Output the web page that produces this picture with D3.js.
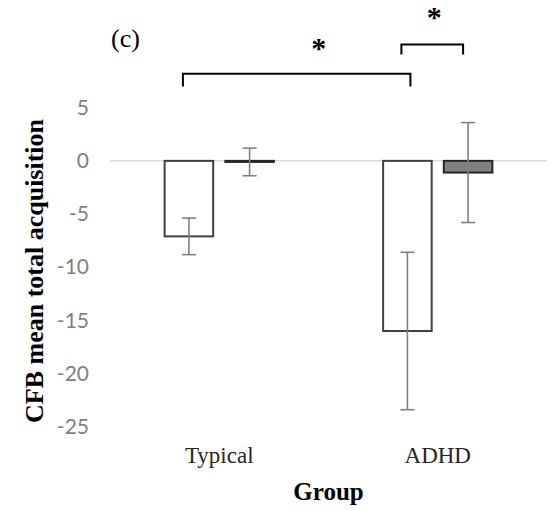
<!DOCTYPE html>
<html>
<head>
<meta charset="utf-8">
<script src="https://cdn.jsdelivr.net/npm/d3@7"></script>
<style>
	body { margin: 0; background: white; }
</style>
</head>
<body>
<div id="cfb_chart"></div>
<script>

// data for the CFB mean total acquisition figure
const groups = ["Typical", "ADHD"];
const series = ["first", "second"];
const meanFirst = [-7.1, -16.0];
const errFirst = [1.72, 7.4];
const meanSecond = [-0.1, -1.1];
const errSecond = [1.3, 4.7];
const yTicks = [5, 0, -5, -10, -15, -20, -25];

// significance brackets (group/series at each end, height in data units)
const bracketFrom = [["Typical", "first"], ["ADHD", "first"]];
const bracketTo = [["ADHD", "first"], ["ADHD", "second"]];
const bracketTop = [8.2, 10.95];
const bracketLeg = [7.0, 10.0];
const starValue = [10.85, 13.8];

// build rows for the bars
const rows = [];
groups.forEach((g, i) => {
	rows.push({ group: g, series: "first", mean: meanFirst[i], err: errFirst[i] });
	rows.push({ group: g, series: "second", mean: meanSecond[i], err: errSecond[i] });
});

// sizes and colours
const w = 551, h = 510;
const margin = { top: 107.7, right: 4, bottom: 83.3, left: 110 };
const serif = "'Liberation Serif', 'Times New Roman', serif";
const tickFill = "#7f7f7f";
const barStroke = "#404040";
const errColor = "#808080";

const svg = d3.select("#cfb_chart")
	.append("svg")
	.attr("width", w)
	.attr("height", h);

// scales
const x0 = d3.scaleBand()
	.domain(groups)
	.range([margin.left, w - margin.right])
	.paddingInner(0.5)
	.paddingOuter(0.25);

const x1 = d3.scaleBand()
	.domain(series)
	.range([0, x0.bandwidth()])
	.paddingInner(0.2);

const y = d3.scaleLinear()
	.domain([-25, 5])
	.range([h - margin.bottom, margin.top]);

const barCenter = (g, s) => x0(g) + x1(s) + x1.bandwidth() / 2;

// y axis (labels only, no line) - plain hyphen for the minus sign
svg.append("g")
	.attr("transform", `translate(89,0)`)
	.call(d3.axisLeft(y).tickValues(yTicks).tickSize(0).tickPadding(0).tickFormat(d => String(d)))
	.call(g => g.select(".domain").remove())
	.call(g => g.selectAll("text")
		.attr("fill", tickFill)
		.style("font-family", "Lato, 'Open Sans', sans-serif")
		.style("font-size", "21px"));

// zero line
svg.append("line")
	.attr("x1", margin.left)
	.attr("x2", w - margin.right)
	.attr("y1", y(0))
	.attr("y2", y(0))
	.attr("stroke", "#d9d9d9")
	.attr("stroke-width", 1.5);

// bars
svg.append("g")
	.selectAll("rect")
	.data(rows)
	.join("rect")
		.attr("x", d => x0(d.group) + x1(d.series))
		.attr("y", d => y(Math.max(0, d.mean)))
		.attr("width", x1.bandwidth())
		.attr("height", d => Math.abs(y(d.mean) - y(0)))
		.attr("fill", d => d.series === "first" ? "white" : "#808080")
		.attr("stroke", d => d.series === "first" ? barStroke : "#262626")
		.attr("stroke-width", 2);

// error bars
const errG = svg.append("g")
	.attr("stroke", errColor)
	.attr("stroke-width", 1.6);

errG.selectAll(".stem")
	.data(rows)
	.join("line")
		.attr("class", "stem")
		.attr("x1", d => barCenter(d.group, d.series))
		.attr("x2", d => barCenter(d.group, d.series))
		.attr("y1", d => y(d.mean + d.err))
		.attr("y2", d => y(d.mean - d.err));

errG.selectAll(".cap")
	.data(rows.flatMap(d => [d.mean + d.err, d.mean - d.err].map(v => ({ ...d, v }))))
	.join("line")
		.attr("class", "cap")
		.attr("x1", d => barCenter(d.group, d.series) - 7)
		.attr("x2", d => barCenter(d.group, d.series) + 7)
		.attr("y1", d => y(d.v))
		.attr("y2", d => y(d.v));

// significance brackets
const brackets = bracketFrom.map((f, i) => ({
	x1: barCenter(f[0], f[1]) - 6,
	x2: barCenter(bracketTo[i][0], bracketTo[i][1]) + (i === 0 ? 3 : -5),
	top: bracketTop[i],
	leg: bracketLeg[i],
	star: starValue[i],
	shift: i === 0 ? 22 : 2 // stars sit a bit right of the bracket centre
}));

svg.append("g")
	.selectAll("path")
	.data(brackets)
	.join("path")
		.attr("d", d => `M${d.x1},${y(d.leg)}V${y(d.top)}H${d.x2}V${y(d.leg)}`)
		.attr("fill", "none")
		.attr("stroke", "black")
		.attr("stroke-width", 2);

svg.append("g")
	.selectAll("text")
	.data(brackets)
	.join("text")
		.attr("x", d => (d.x1 + d.x2) / 2 + d.shift)
		.attr("y", d => y(d.star) + 13)
		.attr("text-anchor", "middle")
		.style("font-family", serif)
		.style("font-weight", "bold")
		.style("font-size", "30px")
		.text("*");

// category labels
svg.append("g")
	.selectAll("text")
	.data(groups)
	.join("text")
		.attr("x", d => x0(d) + x0.bandwidth() / 2)
		.attr("y", 463)
		.attr("text-anchor", "middle")
		.style("font-family", serif)
		.style("font-size", "23px")
		.attr("fill", "#262626")
		.text(d => d);

// x axis title
svg.append("text")
	.attr("x", (margin.left + w - margin.right) / 2)
	.attr("y", 500)
	.attr("text-anchor", "middle")
	.style("font-family", serif)
	.style("font-weight", "bold")
	.style("font-size", "25px")
	.text("Group");

// y axis title
svg.append("text")
	.attr("transform", "rotate(-90)")
	.attr("x", -271)
	.attr("y", 43)
	.attr("text-anchor", "middle")
	.style("font-family", serif)
	.style("font-weight", "bold")
	.style("font-size", "26px")
	.text("CFB mean total acquisition");

// panel label
svg.append("text")
	.attr("x", 111)
	.attr("y", 47)
	.style("font-family", serif)
	.style("font-size", "26px")
	.text("(c)");

</script>
</body>
</html>
